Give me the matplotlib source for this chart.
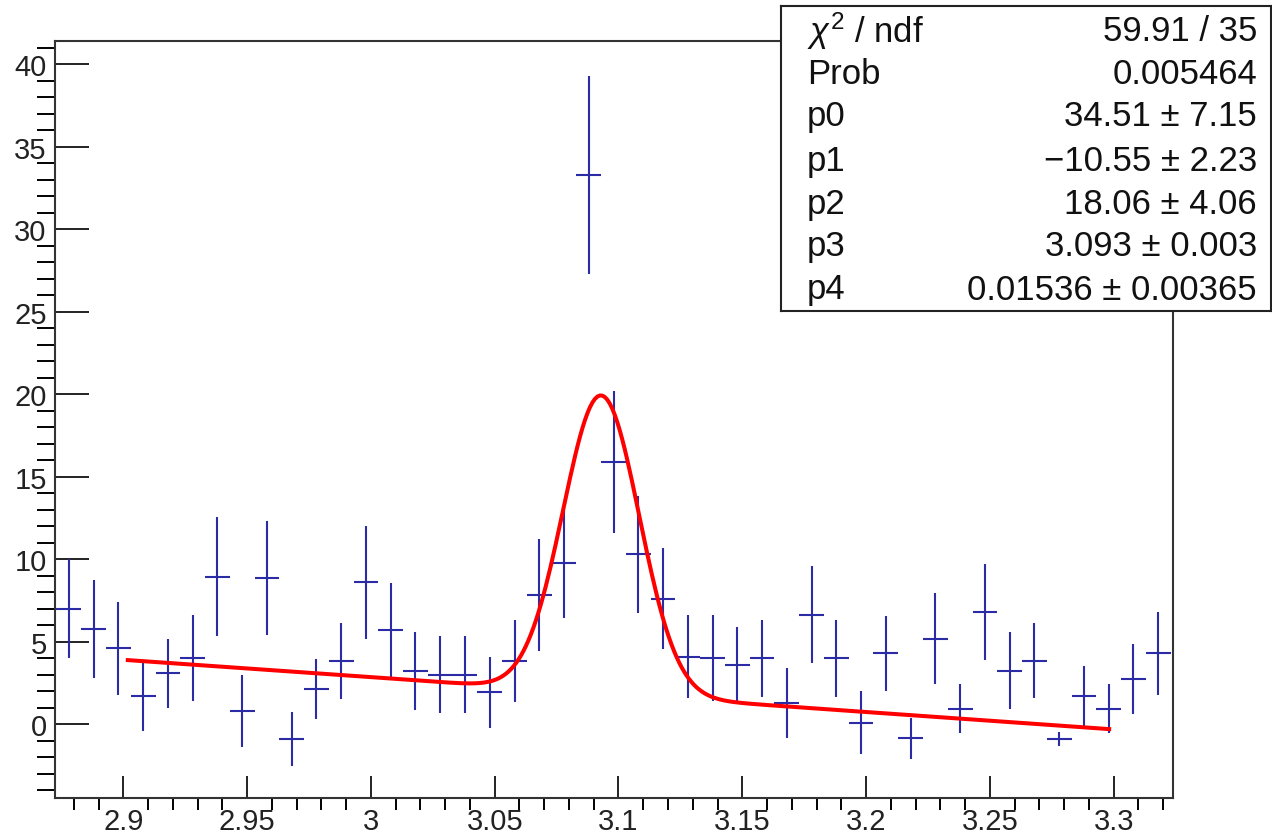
import numpy as np
import matplotlib as mpl, matplotlib.pyplot as plt
from matplotlib.ticker import MultipleLocator, FuncFormatter

mpl.rcParams.update({"font.family": ["Liberation Sans", "DejaVu Sans"], "mathtext.fontset": "custom",
                     "mathtext.rm": "Liberation Sans", "mathtext.it": "Liberation Sans:italic"})

# ---- histogram (bin width 0.01) ----
x_lo, x_hi, bw = 2.873, 3.323, 0.01
counts = [7.0, 5.8, 4.6, 1.7, 3.1, 4.0, 8.95, 0.8, 8.85, -0.87, 2.15, 3.85, 8.6, 5.7, 3.25,
          3.0, 3.0, 1.95, 3.85, 7.85, 9.8, 33.3, 15.9, 10.3, 7.6, 4.1, 4.0, 3.6, 4.0, 1.3,
          6.65, 4.0, 0.1, 4.3, -0.85, 5.2, 0.95, 6.8, 3.25, 3.85, -0.88, 1.7, 0.95, 2.75, 4.3]
errors = [3.0, 2.96, 2.8, 2.1, 2.1, 2.6, 3.6, 2.2, 3.45, 1.63, 1.8, 2.3, 3.4, 2.86, 2.35,
          2.33, 2.33, 2.15, 2.5, 3.4, 3.35, 6.0, 4.3, 3.57, 3.06, 2.5, 2.6, 2.3, 2.35, 2.1,
          2.94, 2.33, 1.92, 2.28, 1.25, 2.78, 1.5, 2.9, 2.34, 2.28, 0.42, 1.83, 1.5, 2.1, 2.5]
centers = x_lo + bw/2 + bw*np.arange(len(counts))

# ---- fit: pol1 + gaus ----
p0, p1, p2, p3, p4 = 34.51, -10.55, 18.06, 3.093, 0.01536
fit_lo, fit_hi = 2.901, 3.299
stats = [(r"$\chi^{2}$ / ndf", "59.91 / 35"), ("Prob", "0.005464"),
         ("p0", "34.51 \u00b1 7.15"), ("p1", "\u221210.55 \u00b1 2.23"), ("p2", "18.06 \u00b1 4.06"),
         ("p3", "3.093 \u00b1 0.003"), ("p4", "0.01536 \u00b1 0.00365")]

W, H = 1272, 837
fig = plt.figure(figsize=(W/100, H/100), dpi=100)
ax = fig.add_axes([55/W, 1-799.3/H, (1173.3-55)/W, (799.3-42.3)/H])
blue = "#2b2ba6"
ax.errorbar(centers, counts, yerr=errors, xerr=bw/2, fmt="none", ecolor=blue, elinewidth=1.5, capsize=0, zorder=2)
xf = np.linspace(fit_lo, fit_hi, 400)
ax.plot(xf, p0 + p1*xf + p2*np.exp(-0.5*((xf-p3)/p4)**2), color="red", lw=2.9,
        solid_capstyle="butt", zorder=3)

ax.set_xlim(x_lo - 0.0006, x_hi + 0.0011); ax.set_ylim(-4.48, 41.4)
ax.xaxis.set_major_locator(MultipleLocator(0.05)); ax.xaxis.set_minor_locator(MultipleLocator(0.01))
ax.yaxis.set_major_locator(MultipleLocator(5)); ax.yaxis.set_minor_locator(MultipleLocator(1))
ax.xaxis.set_major_formatter(FuncFormatter(lambda v, _: f"{v:.2f}".rstrip("0").rstrip(".")))
ax.tick_params(direction="in", width=1.4, labelsize=21, colors="#222222")
ax.tick_params(axis="x", which="major", length=15.5, pad=6)
ax.tick_params(axis="x", which="minor", length=8.5, width=1.4)
ax.tick_params(axis="y", which="major", length=24.5, pad=6)
ax.tick_params(axis="y", which="minor", length=13, width=1.4)
for s in ax.spines.values(): s.set_linewidth(1.5); s.set_color("#333333")

# ---- stats box ----
sb = fig.add_axes([781/W, 1-312.3/H, (1270.5-781)/W, (312.3-7.3)/H])
sb.set_xticks([]); sb.set_yticks([]); sb.set_xlim(0, 1); sb.set_ylim(0, 1); sb.set_facecolor("white")
for s in sb.spines.values(): s.set_linewidth(1.5); s.set_color("#222222")
rows_y = [31.7, 75, 117, 161.5, 205, 247, 290]
for (lab, val), yy in zip(stats, rows_y):
    fy = 1 - (yy-7.3)/(312.3-7.3)
    sb.text((806.7-781)/(1270.5-781), fy, lab, ha="left", va="center", fontsize=25, color="#111111")
    sb.text((1257-781)/(1270.5-781), fy, val, ha="right", va="center", fontsize=25, color="#111111")

fig.savefig("out.png", dpi=100)
